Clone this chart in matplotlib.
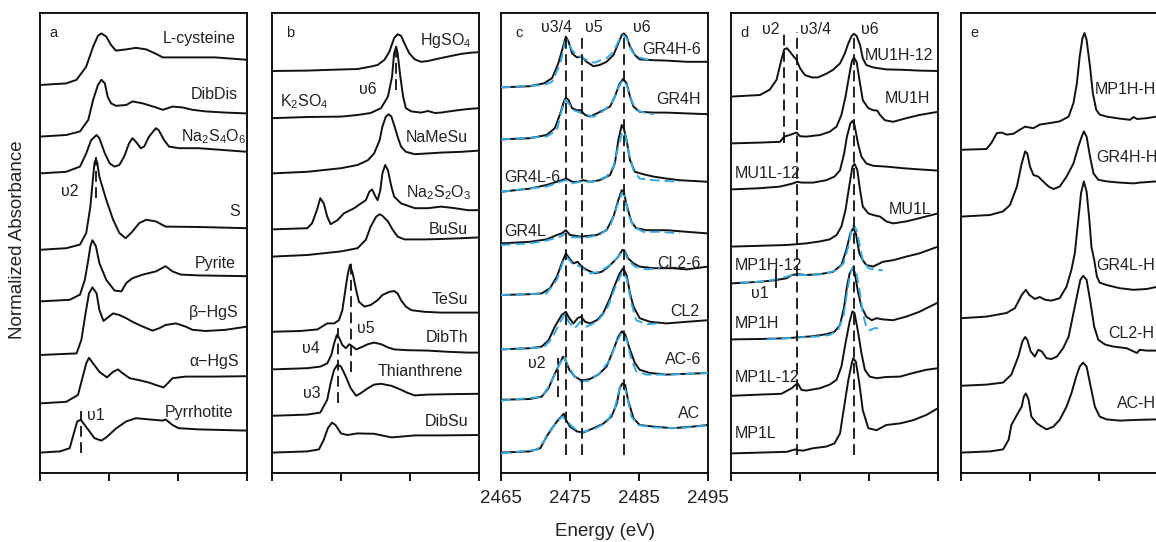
import matplotlib.pyplot as plt

plt.rcParams['font.family'] = ['Liberation Sans', 'DejaVu Sans']
plt.rcParams['mathtext.fontset'] = 'custom'
plt.rcParams['mathtext.rm'] = 'Liberation Sans'
plt.rcParams['mathtext.it'] = 'Liberation Sans:italic'

# ---------------- panel a : reference compounds ----------------
cys_E = [2465.0, 2468.8, 2470.3, 2471.7, 2472.7, 2473.4, 2473.9, 2474.6, 2475.3, 2476.0, 2477.5, 2478.9, 2480.4, 2481.8, 2482.8, 2485.6, 2490.4, 2495.0]
cys_A = [0, .04, .13, .46, .96, 1.23, 1.29, 1.21, 1.0, .86, .89, .93, .89, .78, .69, .69, .69, .63]
dibdis_E = [2465.0, 2468.8, 2470.8, 2472.0, 2472.7, 2473.4, 2473.9, 2474.4, 2474.8, 2475.3, 2476.0, 2477.5, 2478.4, 2479.9, 2481.8, 2482.8, 2484.2, 2485.6, 2487.1, 2489.0, 2491.9, 2495.0]
dibdis_A = [0, .04, .13, .42, .92, 1.29, 1.42, 1.33, 1.0, .83, .77, .79, .88, .83, .73, .67, .75, .73, .67, .63, .60, .58]
nas4o6_E = [2465.0, 2468.8, 2470.8, 2471.7, 2472.4, 2473.2, 2473.6, 2474.4, 2475.1, 2475.8, 2476.5, 2477.2, 2477.9, 2478.4, 2478.9, 2479.6, 2480.1, 2480.8, 2481.8, 2482.2, 2483.0, 2483.7, 2485.2, 2488.0, 2491.9, 2495.0]
nas4o6_A = [0, .04, .17, .5, .83, .96, .88, .5, .25, .17, .21, .42, .75, .88, .79, .63, .67, .92, 1.13, 1.08, .83, .67, .63, .63, .58, .54]
sulf_E = [2465.0, 2468.8, 2470.8, 2471.7, 2472.3, 2472.7, 2472.9, 2473.1, 2473.3, 2473.6, 2474.6, 2475.6, 2476.5, 2477.4, 2478.2, 2479.4, 2480.4, 2481.8, 2483.2, 2488.0, 2495.0]
sulf_A = [0, .04, .13, .42, 1.08, 1.83, 2.17, 2.27, 2.17, 1.83, 1.25, .75, .42, .29, .42, .67, .75, .71, .58, .57, .54]
pyrite_E = [2465.0, 2469.3, 2470.8, 2471.5, 2472.0, 2472.3, 2472.6, 2473.1, 2473.6, 2474.6, 2475.8, 2476.8, 2477.5, 2478.4, 2479.9, 2481.8, 2483.2, 2484.2, 2485.4, 2488.0, 2495.0]
pyrite_A = [0, .04, .17, .54, 1.04, 1.38, 1.53, 1.38, .96, .54, .27, .25, .46, .58, .67, .75, .88, .75, .67, .65, .63]
bhgs_E = [2465.0, 2470.3, 2471.0, 2471.6, 2472.1, 2472.6, 2473.2, 2473.6, 2474.2, 2474.7, 2475.6, 2476.5, 2477.5, 2478.4, 2479.9, 2481.3, 2482.3, 2483.2, 2484.7, 2486.1, 2487.1, 2489.0, 2491.9, 2495.0]
bhgs_A = [0, .04, .38, 1.04, 1.54, 1.69, 1.54, 1.13, .85, .92, 1.04, 1.0, .92, .83, .71, .61, .67, .75, .79, .71, .63, .6, .63, .71]
ahgs_E = [2465.0, 2468.8, 2470.5, 2471.2, 2471.7, 2472.1, 2472.7, 2473.6, 2474.7, 2475.6, 2476.3, 2477.0, 2478.0, 2479.4, 2480.8, 2481.8, 2482.9, 2483.5, 2484.2, 2486.1, 2490.4, 2495.0]
ahgs_A = [0, .04, .21, .67, 1.0, 1.14, 1.0, .79, .65, .79, .85, .75, .63, .58, .52, .46, .4, .5, .63, .67, .67, .68]
pyrr_E = [2465.0, 2467.9, 2469.3, 2469.9, 2470.4, 2470.9, 2471.3, 2472.0, 2472.9, 2473.9, 2474.6, 2476.0, 2477.5, 2478.9, 2480.8, 2482.8, 2483.2, 2484.2, 2485.1, 2488.0, 2495.0]
pyrr_A = [0, .03, .11, .48, .78, .82, .73, .57, .36, .3, .38, .6, .78, .86, .83, .8, .83, .69, .61, .58, .55]

# ---------------- panel b : oxidised / organic references ----------------
hgso4_E = [2465.0, 2470.1, 2473.5, 2477.4, 2479.3, 2480.3, 2481.3, 2482.0, 2482.7, 2483.2, 2483.7, 2484.2, 2484.9, 2485.7, 2486.6, 2487.6, 2488.6, 2490.5, 2492.5, 2493.9, 2495.0]
hgso4_A = [0, .01, .03, .05, .11, .15, .28, .48, .82, .92, .88, .69, .44, .29, .23, .25, .29, .36, .43, .46, .47]
k2so4_E = [2465.0, 2470.1, 2475.0, 2477.4, 2479.3, 2480.8, 2481.8, 2482.4, 2482.7, 2483.0, 2483.2, 2483.6, 2484.0, 2484.4, 2485.2, 2486.6, 2487.6, 2488.6, 2489.5, 2491.5, 2493.4, 2495.0]
k2so4_A = [0, .03, .04, .08, .13, .25, .54, 1.04, 1.63, 1.79, 1.63, 1.04, .54, .25, .17, .14, .18, .13, .14, .19, .23, .25]
namesu_E = [2465.0, 2470.1, 2475.0, 2477.4, 2478.9, 2479.8, 2480.6, 2481.0, 2481.5, 2481.9, 2482.3, 2482.7, 2483.2, 2483.7, 2484.4, 2485.7, 2487.6, 2489.5, 2492.5, 2495.0]
namesu_A = [0, .04, .13, .21, .33, .5, .83, 1.17, 1.42, 1.48, 1.42, 1.21, .92, .67, .54, .48, .5, .52, .54, .57]
nas2o3_E = [2465.0, 2470.1, 2470.8, 2471.5, 2472.0, 2472.5, 2473.0, 2473.5, 2474.5, 2475.4, 2476.9, 2477.9, 2478.6, 2479.1, 2479.5, 2480.0, 2480.3, 2480.7, 2481.0, 2481.4, 2481.8, 2482.3, 2482.7, 2483.7, 2485.7, 2487.6, 2489.5, 2491.5, 2493.4, 2495.0]
nas2o3_A = [0, .03, .15, .48, .78, .65, .32, .13, .23, .4, .53, .65, .73, .94, 1.0, .82, .73, .98, 1.4, 1.61, 1.48, 1.07, .82, .65, .53, .53, .57, .53, .48, .48]
busu_E = [2465.0, 2470.1, 2475.0, 2477.4, 2478.6, 2479.3, 2480.1, 2480.6, 2481.0, 2481.8, 2482.5, 2483.2, 2484.2, 2487.1, 2489.5, 2492.5, 2495.0]
busu_A = [0, .04, .13, .21, .42, .75, 1.0, 1.06, 1.02, .88, .67, .5, .43, .43, .44, .46, .48]
tesu_E = [2465.0, 2469.1, 2471.6, 2473.0, 2474.0, 2474.7, 2475.2, 2475.7, 2476.0, 2476.3, 2476.7, 2477.2, 2477.6, 2478.4, 2479.3, 2480.3, 2481.0, 2482.0, 2482.7, 2483.2, 2483.7, 2484.4, 2485.2, 2487.1, 2489.5, 2492.5, 2495.0]
tesu_A = [0, .02, .06, .21, .21, .29, .54, 1.13, 1.46, 1.67, 1.46, 1.04, .75, .63, .67, .79, .92, 1.0, 1.02, .96, .79, .63, .54, .5, .48, .48, .48]
dibth_E = [2465.0, 2470.1, 2472.0, 2473.0, 2473.6, 2474.0, 2474.4, 2474.7, 2475.2, 2475.7, 2476.2, 2476.7, 2477.2, 2477.9, 2478.9, 2479.8, 2480.8, 2481.8, 2482.7, 2484.7, 2487.6, 2490.5, 2493.4, 2495.0]
dibth_A = [0, .03, .07, .15, .36, .65, .86, .8, .61, .53, .63, .57, .5, .55, .63, .67, .63, .55, .5, .48, .47, .44, .42, .42]
thian_E = [2465.0, 2470.1, 2472.0, 2473.0, 2473.5, 2474.0, 2474.5, 2475.0, 2475.7, 2476.4, 2477.2, 2477.9, 2478.9, 2479.8, 2480.8, 2482.3, 2483.7, 2484.7, 2485.7, 2487.6, 2490.5, 2495.0]
thian_A = [0, .03, .08, .4, .82, 1.15, 1.28, 1.23, .98, .69, .5, .57, .69, .78, .8, .75, .65, .57, .51, .53, .54, .55]
dibsu_E = [2465.0, 2470.1, 2471.8, 2472.5, 2473.1, 2473.7, 2474.2, 2475.0, 2475.9, 2477.4, 2479.8, 2482.3, 2483.7, 2485.7, 2489.5, 2495.0]
dibsu_A = [0, .03, .08, .32, .61, .75, .69, .48, .44, .48, .47, .38, .4, .43, .43, .44]

# ---------------- panel c : soil samples (black) and fits (blue) ----------------
gr4h6_E = [2465.0, 2469.2, 2471.2, 2472.4, 2473.3, 2474.0, 2474.4, 2474.8, 2475.3, 2476.0, 2476.7, 2477.4, 2478.4, 2479.3, 2480.3, 2481.3, 2482.0, 2482.5, 2482.8, 2483.2, 2483.7, 2484.4, 2485.1, 2487.1, 2489.0, 2491.9, 2495.0]
gr4h6_A = [0, .03, .1, .23, .6, 1.02, 1.27, 1.14, .85, .75, .77, .64, .53, .56, .64, .81, 1.1, 1.31, 1.35, 1.27, 1.02, .81, .7, .68, .67, .64, .64]
gr4h6_fE = [2465.0, 2471.2, 2472.4, 2473.6, 2474.3, 2474.6, 2475.3, 2476.0, 2476.9, 2477.9, 2478.6, 2479.3, 2480.3, 2481.3, 2482.1, 2482.7, 2483.2, 2483.9, 2484.6, 2486.1, 2487.1]
gr4h6_fA = [0, .06, .14, .6, 1.14, 1.18, .93, .81, .73, .64, .62, .67, .73, .89, 1.18, 1.31, 1.23, .93, .77, .7, .68]
gr4h_E = [2465.0, 2469.2, 2471.6, 2472.8, 2473.6, 2474.1, 2474.4, 2474.8, 2475.3, 2476.0, 2476.5, 2477.2, 2477.9, 2478.9, 2479.8, 2480.8, 2481.5, 2482.2, 2482.7, 2483.2, 2483.7, 2484.2, 2485.1, 2487.1, 2489.0, 2491.9, 2495.0]
gr4h_A = [0, .03, .11, .28, .65, .94, 1.05, .98, .78, .73, .73, .61, .57, .65, .73, .82, 1.07, 1.4, 1.51, 1.4, 1.07, .82, .69, .67, .67, .65, .63]
gr4h_fE = [2465.0, 2471.6, 2473.1, 2473.8, 2474.3, 2474.8, 2475.5, 2476.5, 2477.4, 2478.4, 2479.3, 2480.3, 2481.3, 2482.0, 2482.6, 2483.2, 2483.9, 2484.6, 2486.1, 2487.1]
gr4h_fA = [0, .07, .23, .73, .98, .9, .73, .67, .61, .57, .65, .78, .98, 1.28, 1.48, 1.36, .98, .73, .65, .63]
gr4l6_E = [2465.0, 2469.2, 2471.6, 2473.1, 2473.8, 2474.5, 2475.3, 2476.2, 2476.9, 2477.9, 2479.3, 2480.8, 2481.5, 2482.0, 2482.5, 2482.8, 2483.2, 2483.7, 2484.4, 2485.6, 2487.1, 2489.0, 2490.9, 2495.0]
gr4l6_A = [0, .08, .17, .25, .29, .33, .25, .25, .29, .25, .29, .42, .71, 1.29, 1.67, 1.58, 1.29, .79, .5, .44, .38, .33, .29, .25]
gr4l6_fE = [2465.0, 2471.6, 2473.6, 2474.4, 2475.3, 2476.5, 2478.4, 2480.3, 2481.3, 2482.0, 2482.6, 2483.0, 2483.4, 2484.2, 2485.1, 2487.1, 2490.9]
gr4l6_fA = [0, .13, .25, .29, .21, .25, .25, .38, .63, 1.13, 1.5, 1.46, 1.04, .54, .33, .29, .25]
gr4l_E = [2465.0, 2469.2, 2471.6, 2473.1, 2473.8, 2474.4, 2475.0, 2476.5, 2478.9, 2480.3, 2481.3, 2482.0, 2482.5, 2482.8, 2483.2, 2483.9, 2484.6, 2486.1, 2489.0, 2491.9, 2495.0]
gr4l_A = [0, .04, .1, .21, .25, .33, .21, .17, .21, .33, .67, 1.08, 1.33, 1.29, .96, .54, .38, .33, .33, .29, .25]
gr4l_fE = [2465.0, 2469.2, 2471.6, 2473.6, 2474.4, 2475.3, 2477.4, 2479.3, 2480.8, 2481.8, 2482.5, 2483.0, 2483.4, 2484.2, 2485.6, 2488.0, 2490.9]
gr4l_fA = [-.04, 0, .07, .17, .25, .15, .15, .21, .42, .92, 1.25, 1.17, .75, .42, .29, .29, .25]
cl26_E = [2465.0, 2469.2, 2470.9, 2472.1, 2473.1, 2473.8, 2474.4, 2474.9, 2475.5, 2476.1, 2476.7, 2477.4, 2478.6, 2479.6, 2480.6, 2481.3, 2482.0, 2482.6, 2483.0, 2483.4, 2484.2, 2485.1, 2487.1, 2489.9, 2491.9, 2495.0]
cl26_A = [0, .02, .04, .17, .46, .79, 1.04, .92, .79, .83, .71, .63, .54, .58, .71, .83, .96, 1.13, 1.08, .92, .79, .71, .67, .67, .64, .71]
cl26_fE = [2465.0, 2471.6, 2473.1, 2474.1, 2474.5, 2475.3, 2476.5, 2477.9, 2479.3, 2480.8, 2482.2, 2482.8, 2483.4, 2484.4, 2486.1, 2488.0]
cl26_fA = [0, .04, .38, .88, .96, .79, .71, .54, .58, .75, 1.0, 1.13, .88, .71, .64, .67]
cl2_E = [2465.0, 2469.2, 2470.9, 2471.9, 2472.8, 2473.8, 2474.4, 2474.9, 2475.5, 2476.1, 2476.6, 2477.2, 2477.9, 2478.9, 2479.8, 2480.8, 2481.5, 2482.2, 2482.7, 2483.2, 2483.7, 2484.2, 2485.1, 2486.6, 2489.0, 2491.9, 2495.0]
cl2_A = [0, .03, .07, .23, .57, .86, .94, .78, .65, .78, .82, .69, .65, .73, .9, 1.28, 1.61, 1.9, 2.03, 1.86, 1.4, 1.07, .78, .69, .65, .69, .73]
cl2_fE = [2465.0, 2471.2, 2472.4, 2473.6, 2474.3, 2474.8, 2475.7, 2476.5, 2477.4, 2478.9, 2480.3, 2481.5, 2482.6, 2483.2, 2483.9, 2484.6, 2486.1, 2488.0]
cl2_fA = [0, .05, .28, .69, .9, .69, .53, .69, .57, .69, .98, 1.53, 1.94, 1.78, 1.15, .73, .63, .65]
ac6_E = [2465.0, 2469.2, 2470.9, 2471.9, 2472.6, 2473.3, 2474.0, 2474.3, 2474.9, 2475.7, 2476.7, 2477.9, 2479.1, 2480.3, 2481.3, 2482.0, 2482.5, 2483.0, 2483.7, 2484.4, 2485.1, 2486.6, 2489.0, 2491.9, 2495.0]
ac6_A = [0, .02, .08, .29, .58, .83, 1.08, 1.02, .75, .58, .48, .52, .63, .83, 1.25, 1.58, 1.71, 1.63, 1.25, .92, .75, .67, .63, .65, .67]
ac6_fE = [2465.0, 2470.9, 2472.1, 2473.3, 2474.1, 2474.6, 2475.5, 2476.5, 2477.9, 2479.3, 2480.8, 2481.8, 2482.5, 2483.2, 2483.9, 2484.6, 2486.1, 2489.0, 2491.9, 2495.0]
ac6_fA = [-.02, .07, .38, .83, 1.08, .88, .63, .46, .48, .67, 1.0, 1.46, 1.68, 1.5, 1.0, .71, .63, .63, .65, .67]
ac_E = [2465.0, 2469.2, 2470.7, 2471.6, 2472.4, 2473.3, 2474.1, 2474.4, 2475.0, 2476.0, 2476.9, 2478.4, 2479.8, 2481.0, 2481.8, 2482.2, 2482.6, 2483.0, 2483.4, 2484.2, 2485.1, 2487.1, 2489.9, 2492.8, 2495.0]
ac_A = [0, .03, .11, .4, .61, .82, .97, .82, .65, .53, .5, .61, .72, .9, 1.23, 1.61, 1.73, 1.69, 1.32, .86, .69, .65, .61, .65, .69]
ac_fE = [2465.0, 2470.2, 2471.4, 2472.6, 2473.8, 2474.4, 2475.3, 2476.5, 2478.4, 2480.3, 2481.5, 2482.3, 2482.7, 2483.2, 2483.9, 2484.9, 2487.1, 2490.9, 2495.0]
ac_fA = [-.02, .07, .32, .65, .9, .83, .65, .5, .58, .75, 1.11, 1.69, 1.72, 1.48, .9, .69, .63, .61, .68]

# ---------------- panel d ----------------
mu1h12_E = [2465.0, 2469.2, 2470.6, 2471.6, 2472.3, 2472.7, 2473.1, 2473.5, 2474.1, 2474.5, 2475.0, 2475.7, 2476.7, 2477.6, 2478.8, 2479.8, 2480.8, 2481.5, 2482.0, 2482.5, 2482.8, 2483.2, 2483.7, 2484.1, 2484.6, 2485.6, 2487.5, 2489.9, 2492.3, 2495.0]
mu1h12_A = [0, .04, .17, .42, .92, 1.18, 1.21, 1.13, 1.0, .92, .71, .54, .48, .48, .57, .67, .83, 1.08, 1.33, 1.52, 1.57, 1.52, 1.29, .96, .79, .73, .68, .67, .65, .64]
mu1h_E = [2465.0, 2469.2, 2472.1, 2472.7, 2473.5, 2474.5, 2475.0, 2475.9, 2477.9, 2479.3, 2480.3, 2481.0, 2481.6, 2482.1, 2482.5, 2482.8, 2483.2, 2483.7, 2484.1, 2484.9, 2485.6, 2486.2, 2486.6, 2487.3, 2488.5, 2490.4, 2492.3, 2495.0]
mu1h_A = [0, .02, .04, .17, .21, .27, .18, .17, .21, .29, .42, .71, 1.17, 1.67, 2.04, 2.15, 2.04, 1.5, 1.08, .88, .83, .82, .71, .58, .54, .63, .71, .79]
mu1l12_E = [2465.0, 2469.2, 2472.1, 2474.0, 2474.6, 2475.2, 2476.9, 2478.8, 2480.0, 2480.8, 2481.4, 2481.8, 2482.3, 2482.6, 2482.9, 2483.4, 2483.9, 2484.6, 2485.6, 2487.5, 2489.9, 2492.3, 2495.0]
mu1l12_A = [0, .03, .07, .15, .19, .17, .17, .23, .32, .48, .9, 1.32, 1.65, 1.71, 1.61, 1.15, .82, .65, .59, .57, .53, .5, .47]
mu1l_E = [2465.0, 2469.2, 2473.1, 2475.9, 2477.9, 2479.3, 2480.3, 2481.0, 2481.6, 2482.2, 2482.6, 2482.9, 2483.3, 2483.7, 2484.1, 2484.9, 2485.6, 2486.6, 2487.5, 2488.5, 2490.4, 2492.3, 2495.0]
mu1l_A = [0, .02, .04, .08, .13, .18, .29, .5, .92, 1.58, 2.0, 2.07, 1.92, 1.42, 1.0, .83, .79, .75, .63, .58, .63, .71, .83]
mp1h12_E = [2465.0, 2469.2, 2471.4, 2473.1, 2473.8, 2474.6, 2475.9, 2477.9, 2479.8, 2481.0, 2481.7, 2482.3, 2482.7, 2483.1, 2483.6, 2484.1, 2484.6, 2485.6, 2487.0, 2488.5, 2490.4, 2492.3, 2495.0]
mp1h12_A = [0, .04, .08, .13, .21, .23, .21, .23, .29, .46, .83, 1.25, 1.38, 1.25, .75, .58, .46, .42, .54, .58, .67, .75, .92]
mp1h12_fE = [2466.3, 2468.2, 2470.6, 2473.1, 2473.8, 2475.0, 2476.9, 2478.8, 2480.3, 2481.3, 2482.0, 2482.5, 2482.8, 2483.2, 2483.7, 2484.1, 2484.9, 2486.1, 2487.0]
mp1h12_fA = [.02, .03, .07, .17, .21, .21, .21, .25, .33, .5, .92, 1.38, 1.46, 1.33, .92, .58, .38, .33, .33]
mp1h_E = [2465.0, 2469.2, 2473.1, 2474.6, 2476.9, 2478.8, 2480.0, 2480.8, 2481.4, 2481.8, 2482.2, 2482.6, 2482.9, 2483.4, 2483.9, 2484.6, 2485.4, 2486.1, 2487.0, 2488.5, 2490.4, 2492.3, 2493.8, 2495.0]
mp1h_A = [0, .01, .03, .05, .08, .13, .19, .36, .82, 1.32, 1.65, 1.77, 1.69, 1.19, .82, .57, .48, .53, .5, .48, .57, .69, .82, .92]
mp1h_fE = [2470.2, 2473.1, 2475.0, 2477.4, 2479.3, 2480.5, 2481.3, 2481.8, 2482.3, 2482.7, 2483.2, 2483.7, 2484.1, 2484.6, 2485.1, 2485.8, 2486.8]
mp1h_fA = [0, .03, .05, .07, .11, .23, .57, 1.15, 1.65, 1.82, 1.65, 1.15, .65, .32, .23, .28, .28]
mp1l12_E = [2465.0, 2469.2, 2472.3, 2473.8, 2474.4, 2474.7, 2475.2, 2475.9, 2477.9, 2479.3, 2480.3, 2481.0, 2481.6, 2482.2, 2482.6, 2482.9, 2483.4, 2483.9, 2484.4, 2485.1, 2486.1, 2487.5, 2489.5, 2491.4, 2493.3, 2495.0]
mp1l12_A = [0, .03, .05, .19, .28, .3, .15, .13, .19, .28, .4, .73, 1.32, 1.86, 2.11, 2.07, 1.61, 1.07, .65, .48, .44, .47, .48, .57, .65, .69]
mp1l_E = [2465.0, 2469.2, 2473.1, 2474.3, 2474.7, 2475.5, 2476.9, 2478.8, 2480.0, 2480.8, 2481.4, 2482.0, 2482.5, 2482.7, 2483.1, 2483.6, 2484.1, 2484.9, 2486.1, 2487.5, 2489.5, 2491.4, 2493.3, 2495.0]
mp1l_A = [0, .02, .04, .1, .08, .07, .13, .17, .25, .5, 1.17, 1.83, 2.25, 2.38, 2.29, 1.75, 1.08, .63, .58, .71, .75, .83, .96, 1.13]

# ---------------- panel e : Hg-spiked samples ----------------
mp1hh_E = [2465.0, 2468.7, 2469.4, 2470.2, 2470.9, 2471.6, 2472.6, 2473.5, 2474.3, 2474.8, 2475.5, 2476.4, 2477.9, 2479.3, 2480.6, 2481.3, 2481.8, 2482.2, 2482.6, 2482.9, 2483.2, 2483.7, 2484.1, 2484.6, 2485.1, 2486.1, 2488.0, 2489.5, 2490.0, 2490.5, 2491.9, 2493.3]
mp1hh_A = [0, .02, .17, .42, .43, .38, .4, .5, .58, .56, .54, .63, .67, .71, .83, 1.17, 1.67, 2.33, 2.79, 2.92, 2.75, 2.08, 1.42, 1.0, .88, .83, .78, .75, .82, .77, .79, .83]
gr4hh_E = [2465.0, 2469.2, 2471.1, 2472.1, 2473.1, 2473.8, 2474.3, 2474.6, 2475.0, 2475.5, 2476.2, 2476.9, 2477.7, 2478.4, 2479.3, 2480.3, 2481.3, 2482.0, 2482.5, 2482.8, 2483.2, 2483.7, 2484.2, 2484.9, 2486.1, 2488.0, 2490.0, 2490.9, 2493.3]
gr4hh_A = [0, .04, .13, .29, .75, 1.33, 1.63, 1.58, 1.25, 1.04, 1.0, .88, .75, .69, .75, 1.0, 1.33, 1.75, 2.0, 2.13, 2.0, 1.5, 1.08, .92, .88, .85, .83, .85, .88]
gr4lh_E = [2465.0, 2468.7, 2471.6, 2472.8, 2473.8, 2474.4, 2474.9, 2475.7, 2476.4, 2477.2, 2478.1, 2479.3, 2480.3, 2481.0, 2481.5, 2482.0, 2482.4, 2482.8, 2483.2, 2483.6, 2483.9, 2484.3, 2484.7, 2485.1, 2486.1, 2488.0, 2490.0, 2491.9, 2493.3]
gr4lh_A = [0, .04, .13, .25, .58, .71, .58, .48, .53, .46, .44, .5, .79, 1.21, 1.63, 2.46, 3.13, 3.42, 3.17, 2.46, 1.79, 1.46, 1.04, .89, .83, .75, .71, .73, .78]
cl2h_E = [2465.0, 2468.7, 2471.1, 2472.3, 2473.3, 2473.9, 2474.3, 2474.6, 2475.1, 2475.7, 2476.2, 2476.7, 2477.4, 2478.1, 2478.9, 2479.8, 2480.6, 2481.3, 2481.9, 2482.3, 2482.7, 2483.2, 2483.7, 2484.3, 2484.9, 2485.9, 2487.1, 2489.0, 2490.5, 2490.9, 2491.9, 2493.3]
cl2h_A = [0, .03, .08, .28, .73, 1.11, 1.22, 1.15, .86, .73, .9, .86, .69, .67, .73, .94, 1.23, 1.82, 2.32, 2.65, 2.75, 2.65, 2.15, 1.48, 1.15, 1.03, .98, .94, .82, .9, .88, .88]
ach_E = [2465.0, 2469.2, 2471.1, 2471.9, 2472.3, 2473.1, 2473.8, 2474.1, 2474.4, 2474.8, 2475.2, 2476.0, 2476.7, 2477.4, 2478.4, 2479.3, 2480.3, 2481.0, 2481.7, 2482.2, 2482.7, 2483.2, 2483.7, 2484.4, 2485.1, 2486.1, 2488.0, 2490.9, 2493.3]
ach_A = [0, .03, .08, .32, .69, .94, 1.15, 1.4, 1.48, 1.32, .9, .73, .65, .58, .65, .82, 1.15, 1.48, 1.9, 2.15, 2.25, 2.15, 1.73, 1.15, .9, .83, .8, .82, .83]

# ---------------- stacking (vertical offsets) ----------------
a_curves = [(cys_E, cys_A), (dibdis_E, dibdis_A), (nas4o6_E, nas4o6_A), (sulf_E, sulf_A),
            (pyrite_E, pyrite_A), (bhgs_E, bhgs_A), (ahgs_E, ahgs_A), (pyrr_E, pyrr_A)]
a_off = [9.70, 8.41, 7.49, 5.58, 4.29, 2.95, 1.74, 0.51]
b_curves = [(hgso4_E, hgso4_A), (k2so4_E, k2so4_A), (namesu_E, namesu_A), (nas2o3_E, nas2o3_A),
            (busu_E, busu_A), (tesu_E, tesu_A), (dibth_E, dibth_A), (thian_E, thian_A), (dibsu_E, dibsu_A)]
b_off = [10.05, 8.87, 7.49, 6.09, 5.41, 3.53, 2.59, 1.43, 0.51]
c_curves = [(gr4h6_E, gr4h6_A), (gr4h_E, gr4h_A), (gr4l6_E, gr4l6_A), (gr4l_E, gr4l_A),
            (cl26_E, cl26_A), (cl2_E, cl2_A), (ac6_E, ac6_A), (ac_E, ac_A)]
c_fits = [(gr4h6_fE, gr4h6_fA), (gr4h_fE, gr4h_fA), (gr4l6_fE, gr4l6_fA), (gr4l_fE, gr4l_fA),
          (cl26_fE, cl26_fA), (cl2_fE, cl2_fA), (ac6_fE, ac6_fA), (ac_fE, ac_fA)]
c_off = [9.64, 8.34, 7.03, 5.74, 4.45, 3.09, 1.83, 0.51]
d_curves = [(mu1h12_E, mu1h12_A), (mu1h_E, mu1h_A), (mu1l12_E, mu1l12_A), (mu1l_E, mu1l_A),
            (mp1h12_E, mp1h12_A), (mp1h_E, mp1h_A), (mp1l12_E, mp1l12_A), (mp1l_E, mp1l_A)]
d_fits = [None, None, None, None, (mp1h12_fE, mp1h12_fA), (mp1h_fE, mp1h_fA), None, None]
d_off = [9.41, 8.24, 7.09, 5.66, 4.74, 3.34, 1.93, 0.49]
e_curves = [(mp1hh_E, mp1hh_A), (gr4hh_E, gr4hh_A), (gr4lh_E, gr4lh_A), (cl2h_E, cl2h_A), (ach_E, ach_A)]
e_off = [8.08, 6.41, 3.87, 2.18, 0.51]

# labels: (text, energy, height, alignment)
a_labels = [('L-cysteine', 2493.3, 10.85, 'right'), ('DibDis', 2493.7, 9.47, 'right'),
            ('Na$_2$S$_4$O$_6$', 2494.9, 8.4, 'right'), ('S', 2494.0, 6.55, 'right'),
            ('Pyrite', 2493.3, 5.24, 'right'), ('β−HgS', 2493.8, 4.0, 'right'),
            ('α−HgS', 2493.8, 2.78, 'right'), ('Pyrrhotite', 2493.0, 1.5, 'right'),
            ('υ2', 2469.3, 7.03, 'center'), ('υ1', 2471.8, 1.45, 'left')]
b_labels = [('HgSO$_4$', 2493.9, 10.8, 'right'), ('K$_2$SO$_4$', 2466.2, 9.28, 'left'),
            ('υ6', 2478.9, 9.6, 'center'), ('NaMeSu', 2493.4, 8.4, 'right'),
            ('Na$_2$S$_2$O$_3$', 2493.9, 7.0, 'right'), ('BuSu', 2493.4, 6.1, 'right'),
            ('TeSu', 2493.4, 4.35, 'right'), ('υ5', 2478.6, 3.62, 'center'),
            ('DibTh', 2493.4, 3.4, 'right'), ('υ4', 2470.7, 3.12, 'center'),
            ('Thianthrene', 2492.7, 2.53, 'right'), ('υ3', 2470.7, 2.0, 'center'),
            ('DibSu', 2493.4, 1.28, 'right')]
c_labels = [('GR4H-6', 2494.0, 10.58, 'right'), ('GR4H', 2494.0, 9.33, 'right'),
            ('GR4L-6', 2465.5, 7.4, 'left'), ('GR4L', 2465.5, 6.03, 'left'),
            ('CL2-6', 2494.0, 5.25, 'right'), ('CL2', 2493.8, 4.03, 'right'),
            ('AC-6', 2494.0, 2.83, 'right'), ('AC', 2493.8, 1.5, 'right'),
            ('υ2', 2470.2, 2.73, 'center'), ('υ3/4', 2473.1, 11.15, 'center'),
            ('υ5', 2478.5, 11.15, 'center'), ('υ6', 2485.4, 11.15, 'center')]
d_labels = [('MU1H-12', 2494.3, 10.45, 'right'), ('MU1H', 2493.8, 9.37, 'right'),
            ('MU1L-12', 2465.6, 7.48, 'left'), ('MU1L', 2494.0, 6.6, 'right'),
            ('MP1H-12', 2465.6, 5.2, 'left'), ('υ1', 2469.2, 4.5, 'center'),
            ('MP1H', 2465.6, 3.75, 'left'), ('MP1L-12', 2465.6, 2.4, 'left'),
            ('MP1L', 2465.6, 1.0, 'left'), ('υ2', 2470.7, 11.1, 'center'),
            ('υ3/4', 2477.3, 11.1, 'center'), ('υ6', 2485.1, 11.1, 'center')]
e_labels = [('MP1H-H', 2484.4, 9.6, 'left'), ('GR4H-H', 2484.6, 7.9, 'left'),
            ('GR4L-H', 2484.6, 5.2, 'left'), ('CL2-H', 2486.3, 3.48, 'left'),
            ('AC-H', 2487.6, 1.75, 'left')]

# marker lines: (energy, ymin, ymax, style)
a_marks = [(2473.1, 6.88, 7.9, 'dash'), (2470.9, 0.51, 1.56, 'dash')]
b_marks = [(2482.9, 9.58, 10.58, 'dash'), (2476.4, 2.53, 5.28, 'dash'), (2474.5, 1.75, 3.63, 'dash')]
c_marks = [(2474.4, 0.45, 11.0, 'dash'), (2476.7, 0.45, 11.0, 'dash'), (2482.8, 0.45, 11.0, 'dash'),
           (2473.2, 1.9, 2.88, 'dash')]
d_marks = [(2472.7, 8.25, 11.03, 'dash'), (2474.6, 0.45, 11.03, 'dash'), (2482.8, 0.45, 10.9, 'dash'),
           (2471.5, 4.66, 5.08, 'solid')]

panel_letters = ['a', 'b', 'c', 'd', 'e']
letter_E = [2466.9, 2467.6, 2467.6, 2467.0, 2467.0]
xticks = [2465, 2475, 2485, 2495]

W, H = 1156, 542
fig = plt.figure(figsize=(W / 100, H / 100), dpi=100)
lefts = [40, 272, 501, 731, 961]
blue = '#35A9E2'
black = '#111111'

panels = [(a_curves, None, a_off, a_labels, a_marks),
          (b_curves, None, b_off, b_labels, b_marks),
          (c_curves, c_fits, c_off, c_labels, c_marks),
          (d_curves, d_fits, d_off, d_labels, d_marks),
          (e_curves, None, e_off, e_labels, [])]

for i, (curves, fits, offs, labels, marks) in enumerate(panels):
    ax = fig.add_axes([lefts[i] / W, 69 / H, 207 / W, 460 / H])
    for j, (en, ab) in enumerate(curves):
        ax.plot(en, [v + offs[j] for v in ab], color=black, lw=1.4, zorder=3)
        if fits is not None and fits[j] is not None:
            fe, fa = fits[j]
            ax.plot(fe, [v + offs[j] for v in fa], color=blue, lw=1.4,
                    linestyle=(0, (5, 2.5)), zorder=4)
    for (en, y0, y1, st) in marks:
        ls = (0, (6, 3)) if st == 'dash' else '-'
        ax.plot([en, en], [y0, y1], color=black, lw=1.3, linestyle=ls, zorder=5)
    for (txt, en, y, ha) in labels:
        ax.text(en, y, txt, ha=ha, va='center', fontsize=11.5, color='#222222', zorder=6)
    ax.text(letter_E[i], 11.0, panel_letters[i], ha='center', va='center', fontsize=10.5, color='#222222')
    ax.set_xlim(2465, 2495)
    ax.set_ylim(0, 11.5)
    ax.set_xticks(xticks)
    ax.set_yticks([])
    ax.tick_params(axis='x', direction='out', length=6, width=1.3, labelsize=13.5, pad=6,
                   labelcolor='#222222', labelbottom=(i == 2))
    for sp in ax.spines.values():
        sp.set_linewidth(1.3)

fig.text(605 / W, 1 - 532 / H, 'Energy (eV)', ha='center', va='center', fontsize=13.5, color='#222222')
fig.text(18 / W, 1 - 240 / H, 'Normalized Absorbance', ha='center', va='center', rotation=90,
         fontsize=13.5, color='#222222')

fig.savefig('out.png', dpi=100)
